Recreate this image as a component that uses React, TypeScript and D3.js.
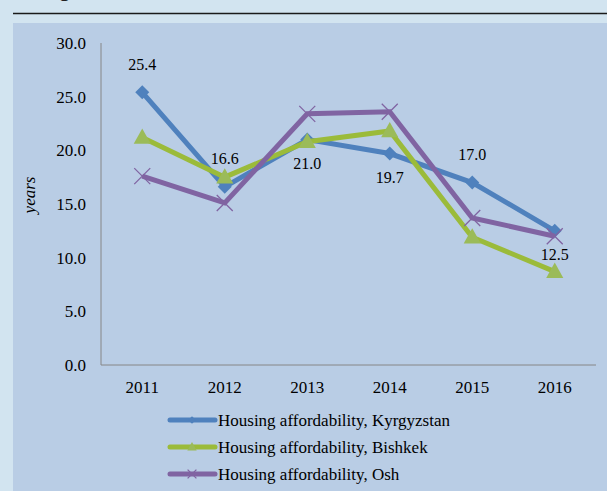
import React from "react";
import * as d3 from "d3";

const years = ["2011", "2012", "2013", "2014", "2015", "2016"];
const kyrgyzstan = [25.4, 16.6, 21.0, 19.7, 17.0, 12.5];
const bishkek = [21.2, 17.5, 20.8, 21.8, 11.9, 8.7];
const osh = [17.6, 15.1, 23.4, 23.6, 13.7, 12.0];
const labelPlacement = ["above", "above", "below", "below", "above", "below"];
const yTicks = [0, 5, 10, 15, 20, 25, 30];
const seriesNames = [
  "Housing affordability, Kyrgyzstan",
  "Housing affordability, Bishkek",
  "Housing affordability, Osh",
];

const W = 607;
const H = 491;
const FONT = "'Liberation Serif', 'Times New Roman', serif";

function Marker({ type, x, y, color, s = 1 }: { type: string; x: number; y: number; color: string; s?: number }) {
  if (type === "diamond") {
    const r = 7 * s;
    return <path d={`M${x},${y - r}L${x + r},${y}L${x},${y + r}L${x - r},${y}Z`} fill={color} />;
  }
  if (type === "triangle") {
    const r = 9 * s;
    return <path d={`M${x},${y - r}L${x + r * 0.95},${y + r * 0.7}L${x - r * 0.95},${y + r * 0.7}Z`} fill={color} />;
  }
  const r = 8 * s;
  return (
    <path d={`M${x - r},${y - r}L${x + r},${y + r}M${x - r},${y + r}L${x + r},${y - r}`} stroke={color} strokeWidth={1.3} fill="none" />
  );
}

export default function App() {
  const x = d3.scaleBand().domain(years).range([101, 596]);
  const y = d3.scaleLinear().domain([0, 30]).range([365, 43]);
  const cx = (d: string) => (x(d) as number) + x.bandwidth() / 2;
  const fmt = d3.format(".1f");

  const series = [
    { name: seriesNames[0], values: kyrgyzstan, color: "#4f81bd", marker: "diamond" },
    { name: seriesNames[1], values: bishkek, color: "#9bbb3a", markerColor: "#9bbb59", marker: "triangle" },
    { name: seriesNames[2], values: osh, color: "#8064a2", marker: "x" },
  ];

  const line = d3
    .line<number>()
    .x((_, i) => cx(years[i]))
    .y((v) => y(v));

  return (
    <svg width={W} height={H} style={{ position: "absolute", left: 0, top: 0 }} fontFamily={FONT}>
      <rect x={0} y={0} width={W} height={H} fill="#d2e4f0" />
      <text x={58} y={-4} fontFamily="'Liberation Sans', Arial, sans-serif" fontWeight="bold" fontSize={22} fill="#222">g</text>
      <line x1={13} x2={W} y1={13.5} y2={13.5} stroke="#1a1a1a" strokeWidth={1.6} />
      <rect x={13} y={23} width={W - 13} height={H - 23} fill="#b9cde5" />

      {/* axes */}
      <line x1={101} x2={101} y1={y(30)} y2={y(0)} stroke="#868686" strokeWidth={1} />
      <line x1={101} x2={596} y1={y(0)} y2={y(0)} stroke="#868686" strokeWidth={1} />
      {yTicks.map((t) => (
        <text key={t} x={86} y={y(t)} dy="0.35em" textAnchor="end" fontSize={17} fill="#000">
          {fmt(t)}
        </text>
      ))}
      {years.map((yr) => (
        <text key={yr} x={cx(yr)} y={387} dy="0.35em" textAnchor="middle" fontSize={17} fill="#000">
          {yr}
        </text>
      ))}
      <text transform="translate(35,195) rotate(-90)" textAnchor="middle" fontSize={17} fontStyle="italic" fill="#000">
        years
      </text>

      {/* lines */}
      {series.map((s) => (
        <g key={s.name}>
          <path d={line(s.values) || ""} fill="none" stroke={s.color} strokeWidth={5} strokeLinejoin="miter" />
          {s.values.map((v, i) => (
            <Marker key={i} type={s.marker} x={cx(years[i])} y={y(v)} color={s.markerColor || s.color} />
          ))}
        </g>
      ))}

      {/* data labels */}
      {kyrgyzstan.map((v, i) => (
        <text
          key={i}
          x={cx(years[i])}
          y={y(v) + (labelPlacement[i] === "above" ? -28 : 24)}
          dy="0.35em"
          textAnchor="middle"
          fontSize={16}
          fill="#000"
        >
          {fmt(v)}
        </text>
      ))}

      {/* legend */}
      {series.map((s, i) => {
        const ly = 420 + i * 27;
        return (
          <g key={s.name}>
            <line x1={170} x2={215} y1={ly} y2={ly} stroke={s.color} strokeWidth={5} strokeLinecap="round" />
            <Marker type={s.marker} x={192} y={ly} color={s.markerColor || s.color} s={0.55} />
            <text x={218} y={ly} dy="0.35em" fontSize={17} fill="#000">
              {s.name}
            </text>
          </g>
        );
      })}
    </svg>
  );
}
